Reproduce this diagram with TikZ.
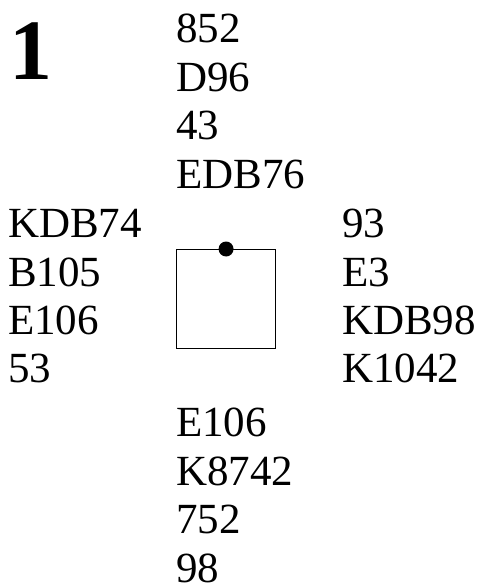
\documentclass[tikz,border=0pt]{standalone}
\usepackage{fontspec}
\setmainfont{Liberation Serif}
\begin{document}
\begin{tikzpicture}[x=1pt,y=-1pt,
  hand/.style={anchor=base west,inner sep=0pt,font=\fontsize{43}{48}\selectfont,align=left},
  boardnum/.style={anchor=base west,inner sep=0pt,font=\fontsize{86}{90}\selectfont\bfseries}]
\useasboundingbox (0,0) rectangle (482,587);
\node[boardnum] (num) at (9,79) {1};
% North
\node[hand] (n1) at (176,42) {852};
\node[hand] (n2) at (176,91) {D96};
\node[hand] (n3) at (176,139) {43};
\node[hand] (n4) at (176,188) {EDB76};
% West
\node[hand] (w1) at (8,237) {KDB74};
\node[hand] (w2) at (8,286) {B105};
\node[hand] (w3) at (8,334) {E106};
\node[hand] (w4) at (8,382) {53};
% East
\node[hand] (e1) at (342,237) {93};
\node[hand] (e2) at (342,286) {E3};
\node[hand] (e3) at (342,334) {KDB98};
\node[hand] (e4) at (342,382) {K1042};
% South
\node[hand] (s1) at (176,436) {E106};
\node[hand] (s2) at (176,485) {K8742};
\node[hand] (s3) at (176,533) {752};
\node[hand] (s4) at (176,582) {98};
% Table
\node[draw,line width=1.1pt,minimum width=99pt,minimum height=99pt,inner sep=0pt,anchor=north west] (table) at (176,249) {};
\fill (table.north) circle[radius=7.5pt];
\end{tikzpicture}
\end{document}
